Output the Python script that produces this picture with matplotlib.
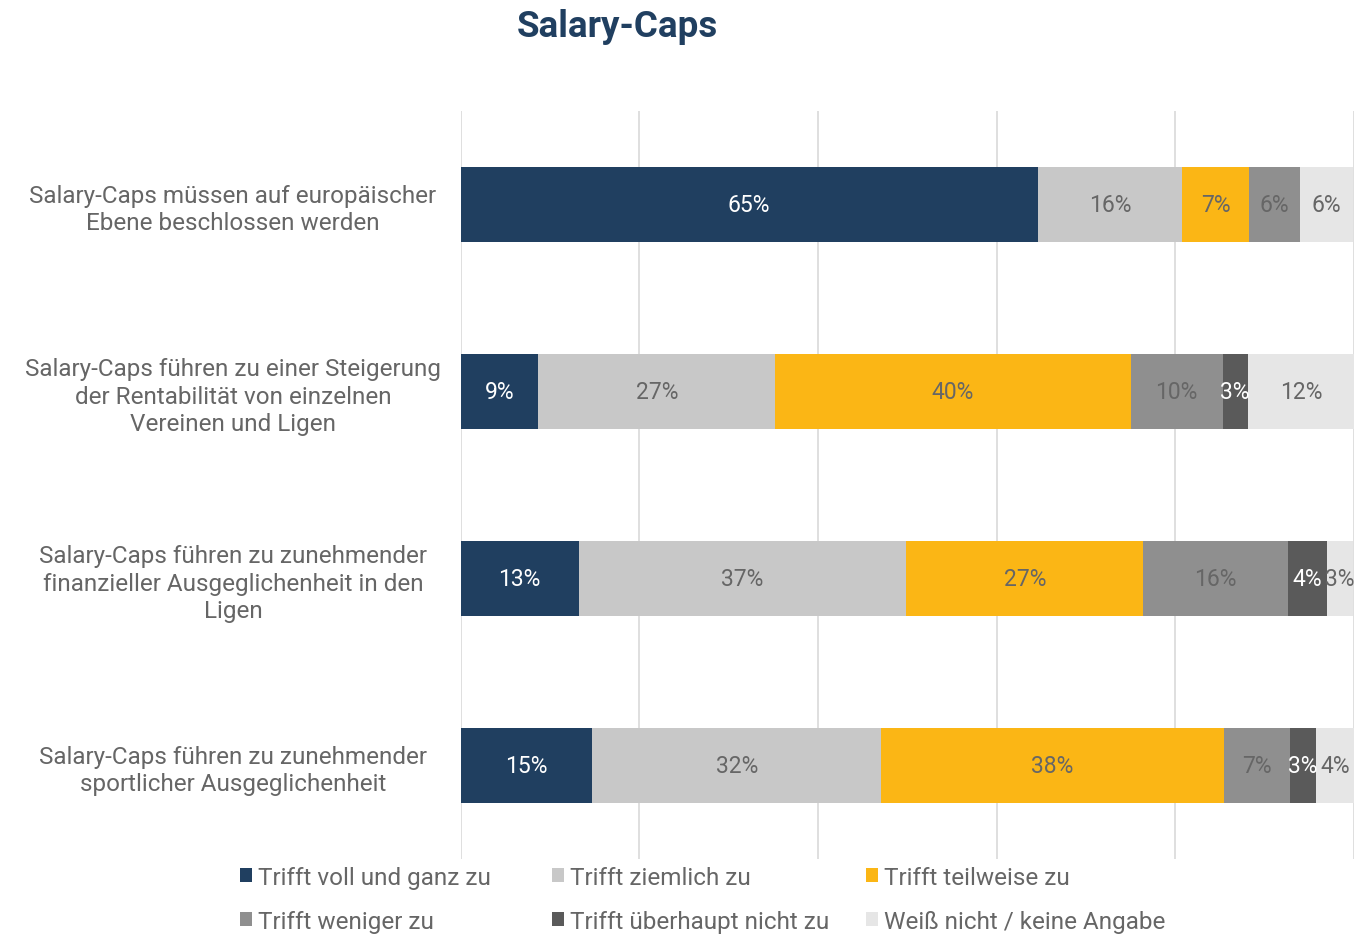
import matplotlib.pyplot as plt
from matplotlib.patches import Patch
import numpy as np

plt.rcParams['font.family'] = ['Roboto', 'DejaVu Sans']

# Data
statements = [
    'Salary-Caps müssen auf europäischer\nEbene beschlossen werden',
    'Salary-Caps führen zu einer Steigerung\nder Rentabilität von einzelnen\nVereinen und Ligen',
    'Salary-Caps führen zu zunehmender\nfinanzieller Ausgeglichenheit in den\nLigen',
    'Salary-Caps führen zu zunehmender\nsportlicher Ausgeglichenheit',
]
categories = ['Trifft voll und ganz zu', 'Trifft ziemlich zu', 'Trifft teilweise zu',
              'Trifft weniger zu', 'Trifft überhaupt nicht zu', 'Weiß nicht / keine Angabe']
voll = [64.6, 8.7, 13.2, 14.7]
ziemlich = [16.2, 26.5, 36.7, 32.4]
teilweise = [7.4, 39.8, 26.5, 38.3]
weniger = [5.8, 10.3, 16.2, 7.4]
nicht = [0.0, 2.8, 4.4, 2.9]
weiss = [5.9, 11.9, 2.9, 4.4]
labels_voll = ['65%', '9%', '13%', '15%']
labels_ziemlich = ['16%', '27%', '37%', '32%']
labels_teilweise = ['7%', '40%', '27%', '38%']
labels_weniger = ['6%', '10%', '16%', '7%']
labels_nicht = ['', '3%', '4%', '3%']
labels_weiss = ['6%', '12%', '3%', '4%']

series = [voll, ziemlich, teilweise, weniger, nicht, weiss]
series_labels = [labels_voll, labels_ziemlich, labels_teilweise,
                 labels_weniger, labels_nicht, labels_weiss]
colors = ['#203f60', '#c8c8c8', '#fbb615', '#8f8f8f', '#5a5a5a', '#e6e6e6']
text_colors = ['white', '#666666', '#666666', '#666666', 'white', '#666666']

fig = plt.figure(figsize=(13.63, 9.37), dpi=100)
ax = fig.add_axes([0.338, 0.0822, 0.6554, 0.7983])

y = np.arange(len(statements))
left = np.zeros(len(statements))
for vals, labs, col, tcol in zip(series, series_labels, colors, text_colors):
    vals = np.array(vals)
    ax.barh(y, vals, left=left, height=0.4, color=col, zorder=3)
    for i, (v, lab) in enumerate(zip(vals, labs)):
        if lab:
            ax.text(left[i] + v / 2, y[i], lab, ha='center', va='center',
                    fontsize=16.5, color=tcol, zorder=4)
    left += vals

ax.set_xlim(0, 100)
ax.set_ylim(len(statements) - 0.5, -0.5)
ax.set_xticks(np.arange(0, 101, 20))
ax.set_xticklabels([])
ax.tick_params(axis='both', length=0)
ax.grid(axis='x', color='#d9d9d9', linewidth=1.2, zorder=0)
ax.set_yticks(y)
ax.set_yticklabels(statements, fontsize=17.5, color='#666666', linespacing=1.25,
                   ha='center', multialignment='center')
ax.tick_params(axis='y', pad=164)
for s in ax.spines.values():
    s.set_visible(False)

fig.text(0.453, 0.971, 'Salary-Caps', ha='center', va='center',
         fontsize=26.5, fontweight='bold', color='#203f60')

# Legend: one small legend per column so columns are evenly spaced
handles = [Patch(facecolor=c, edgecolor='none') for c in colors]
col_x = [0.169, 0.398, 0.628]
for k, x0 in enumerate(col_x):
    idx = [k, k + 3]
    leg = fig.legend([handles[i] for i in idx], [categories[i] for i in idx],
                     ncol=1, loc='lower left', bbox_to_anchor=(x0, -0.007),
                     frameon=False, fontsize=17.5, handlelength=0.5, handleheight=0.5,
                     handletextpad=0.25, labelspacing=0.86, borderpad=0.4,
                     borderaxespad=0.0)
    for t in leg.get_texts():
        t.set_color('#666666')

fig.savefig('out.png', dpi=100)
